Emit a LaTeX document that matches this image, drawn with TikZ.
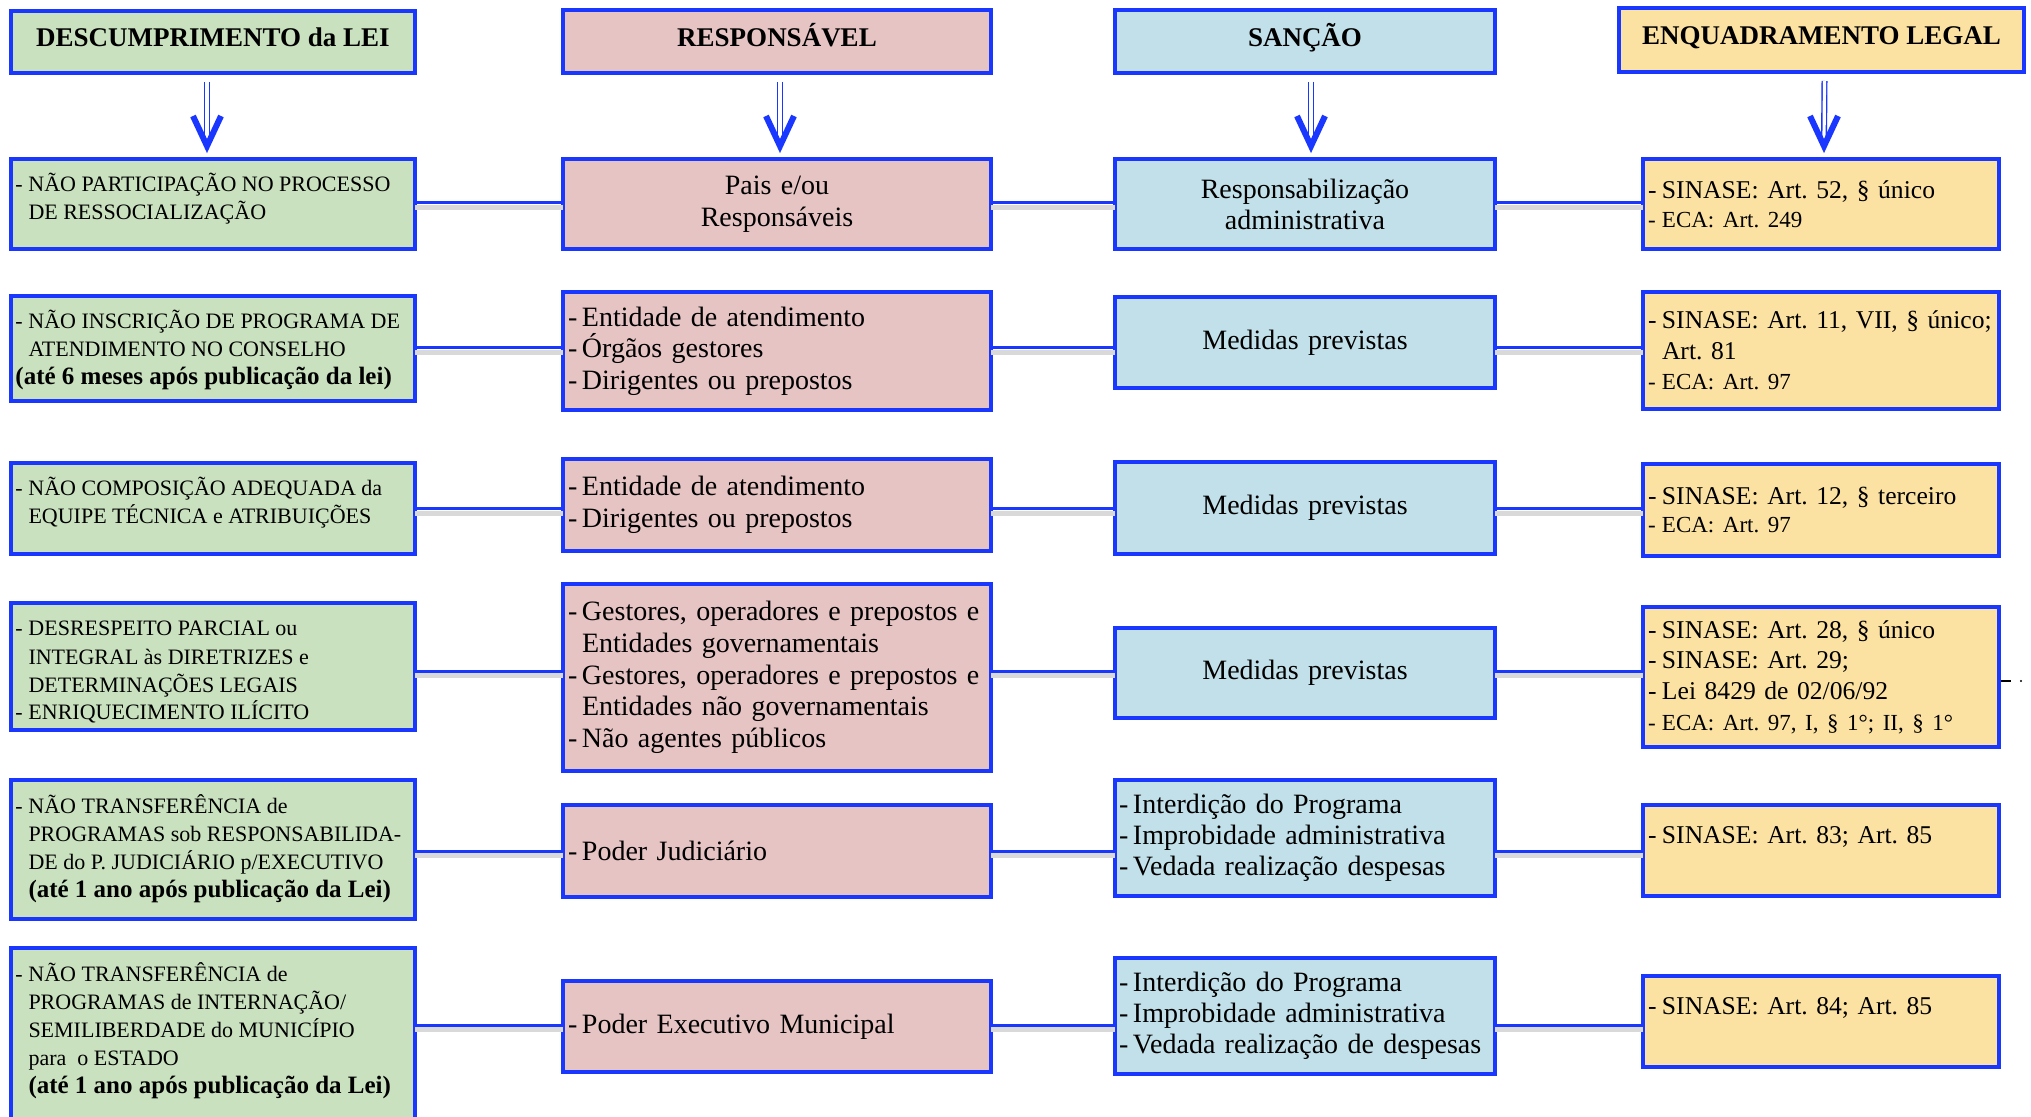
\documentclass[tikz,border=0pt]{standalone}
\usepackage{fontspec}
\setmainfont{Liberation Serif}
\usetikzlibrary{calc}
\definecolor{bl}{RGB}{25,55,255}
\definecolor{gr}{RGB}{201,225,190}
\definecolor{pk}{RGB}{231,196,196}
\definecolor{cy}{RGB}{194,224,233}
\definecolor{ye}{RGB}{252,226,162}
\newcommand\gd{\makebox[6.5pt][l]{-}}
\newcommand\gi{\hspace*{6.5pt}}
\newcommand\sd{\makebox[7pt][l]{-}}
\newcommand\si{\hspace*{7pt}}
\newcommand\ecafont{\fontsize{11.5}{13}\selectfont}
\newcommand\gtx[3]{\parbox[c][#2][t]{#1}{\raggedright\fontsize{11}{14}\selectfont\rule{0pt}{16.5pt}#3}}
\newcommand\gbold[1]{{\bfseries\fontsize{12.5}{14}\selectfont #1}}
\frenchspacing
\begin{document}
\begin{tikzpicture}[x=0.5pt,y=-0.5pt,
  cellbox/.style={draw=bl, line width=2pt, inner sep=0pt, outer sep=0pt},
  hdr/.style={cellbox, font=\fontsize{13.5}{15}\selectfont\bfseries, align=center, text height=9pt, text depth=4pt},
  gb/.style={cellbox, fill=gr},
  pb/.style={cellbox, fill=pk, font=\fontsize{14}{15.8}\selectfont, minimum width=214pt, text width=209pt, align=left},
  cb/.style={cellbox, fill=cy, font=\fontsize{14}{15.5}\selectfont, minimum width=190pt, text width=186pt, align=left},
  yb/.style={cellbox, fill=ye, font=\fontsize{12.8}{15.3}\selectfont, minimum width=178pt, text width=173pt, align=left},
  conn/.style={draw=bl, line width=1.5pt},
  cshadow/.style={draw=black!15, line width=2.5pt},
  dshaft/.style={draw=bl, double=white, double distance=1.6pt, line width=0.7pt},
  vhead/.style={draw=bl, line width=3pt, line join=miter, line cap=butt}]
\fill[white] (0,0) rectangle (2031,1117);
\useasboundingbox (0,0) rectangle (2031,1117);
\clip (0,0) rectangle (2031,1117);

% headers
\node[hdr, fill=gr, minimum width=202pt, minimum height=31pt] (h1) at (213,42) {DESCUMPRIMENTO da LEI};
\node[hdr, fill=pk, minimum width=214pt, minimum height=31.5pt] (h2) at (777,41.5) {RESPONSÁVEL};
\node[hdr, fill=cy, minimum width=190pt, minimum height=31.5pt] (h3) at (1305,41.5) {SANÇÃO};
\node[hdr, fill=ye, minimum width=202.5pt, minimum height=32pt] (h4) at (1821.5,40) {ENQUADRAMENTO LEGAL};

% row coordinates for connectors
\coordinate (r1) at (0,203);
\coordinate (r2) at (0,348);
\coordinate (r3) at (0,509);
\coordinate (r4) at (0,671);
\coordinate (r5) at (0,851);
\coordinate (r6) at (0,1025);

% column 1 (green)
\node[gb, minimum width=202pt, minimum height=45pt] (g1) at (213,204)
  {\gtx{197.5pt}{45pt}{\gd NÃO PARTICIPAÇÃO NO PROCESSO\\ \gi DE RESSOCIALIZAÇÃO}};
\node[gb, minimum width=202pt, minimum height=52.5pt] (g2) at (213,348.5)
  {\gtx{197.5pt}{52.5pt}{\gd NÃO INSCRIÇÃO DE PROGRAMA DE\\ \gi ATENDIMENTO NO CONSELHO\\ \gbold{(até 6 meses após publicação da lei)}}};
\node[gb, minimum width=202pt, minimum height=45.5pt] (g3) at (213,508.5)
  {\gtx{197.5pt}{45.5pt}{\gd NÃO COMPOSIÇÃO ADEQUADA da\\ \gi EQUIPE TÉCNICA e ATRIBUIÇÕES}};
\node[gb, minimum width=202pt, minimum height=63.5pt] (g4) at (213,666.5)
  {\gtx{197.5pt}{63.5pt}{\gd DESRESPEITO PARCIAL ou\\ \gi INTEGRAL às DIRETRIZES e\\ \gi DETERMINAÇÕES LEGAIS\\ \gd ENRIQUECIMENTO ILÍCITO}};
\node[gb, minimum width=202pt, minimum height=69.5pt] (g5) at (213,849.5)
  {\gtx{197.5pt}{69.5pt}{\gd NÃO TRANSFERÊNCIA de\\ \gi PROGRAMAS sob RESPONSABILIDA-\\ \gi DE do P. JUDICIÁRIO p/EXECUTIVO\\ \gi\gbold{(até 1 ano após publicação da Lei)}}};
\node[gb, minimum width=202pt, minimum height=90pt] (g6) at (213,1038)
  {\gtx{197.5pt}{90pt}{\gd NÃO TRANSFERÊNCIA de\\ \gi PROGRAMAS de INTERNAÇÃO/\\ \gi SEMILIBERDADE do MUNICÍPIO\\ \gi para\ \ o ESTADO\\ \gi\gbold{(até 1 ano após publicação da Lei)}}};

% column 2 (pink)
\node[pb, minimum height=45pt, align=center] (p1) at (777,204) {Pais e/ou\\ Responsáveis};
\node[pb, minimum height=59pt] (p2) at (777,351) {\sd Entidade de atendimento\\ \sd Órgãos gestores\\ \sd Dirigentes ou prepostos};
\node[pb, minimum height=46pt] (p3) at (777,505) {\sd Entidade de atendimento\\ \sd Dirigentes ou prepostos};
\node[pb, minimum height=93.5pt] (p4) at (777,677.5) {\sd Gestores, operadores e prepostos e\\ \si Entidades governamentais\\ \sd Gestores, operadores e prepostos e\\ \si Entidades não governamentais\\ \sd Não agentes públicos};
\node[pb, minimum height=46pt] (p5) at (777,851) {\sd Poder Judiciário};
\node[pb, minimum height=45.5pt] (p6) at (777,1026.5) {\sd Poder Executivo Municipal};

% column 3 (blue)
\node[cb, minimum height=45pt, align=center] (b1) at (1305,204) {Responsabilização\\ administrativa};
\node[cb, minimum height=45.5pt, align=center] (b2) at (1305,342.5) {Medidas previstas};
\node[cb, minimum height=46pt, align=center] (b3) at (1305,508) {Medidas previstas};
\node[cb, minimum height=45pt, align=center] (b4) at (1305,673) {Medidas previstas};
\node[cb, minimum height=58pt] (b5) at (1305,838) {\sd Interdição do Programa\\ \sd Improbidade administrativa\\ \sd Vedada realização despesas};
\node[cb, minimum height=58pt] (b6) at (1305,1016) {\sd Interdição do Programa\\ \sd Improbidade administrativa\\ \sd Vedada realização de despesas};

% column 4 (yellow)
\node[yb, minimum height=45pt] (y1) at (1821,204) {\sd SINASE: Art. 52, § único\\[-1pt] {\ecafont\sd ECA: Art. 249}};
\node[yb, minimum height=58.5pt] (y2) at (1821,350.5) {\sd SINASE: Art. 11, VII, § único;\\ \si Art. 81\\ {\ecafont\sd ECA: Art. 97}};
\node[yb, minimum height=46pt] (y3) at (1821,510) {\sd SINASE: Art. 12, § terceiro\\[-1pt] {\ecafont\sd ECA: Art. 97}};
\node[yb, minimum height=70pt] (y4) at (1821,677) {\sd SINASE: Art. 28, § único\\ \sd SINASE: Art. 29;\\ \sd Lei 8429 de 02/06/92\\ {\ecafont\sd ECA: Art. 97, I, § 1°; II, § 1°}};
\node[yb, minimum height=45.5pt] (y5) at (1821,850.5) {\sd SINASE: Art. 83; Art. 85\\[-4pt] \strut};
\node[yb, minimum height=45.5pt] (y6) at (1821,1021.5) {\sd SINASE: Art. 84; Art. 85\\[-4pt] \strut};

% connectors
\foreach \r/\a/\b/\c/\d in {r1/g1/p1/b1/y1, r2/g2/p2/b2/y2, r3/g3/p3/b3/y3, r4/g4/p4/b4/y4, r5/g5/p5/b5/y5, r6/g6/p6/b6/y6}{
  \draw[cshadow] ([yshift=-2.2pt]\a.east |- \r) -- ([yshift=-2.2pt]\b.west |- \r);
  \draw[cshadow] ([yshift=-2.2pt]\b.east |- \r) -- ([yshift=-2.2pt]\c.west |- \r);
  \draw[cshadow] ([yshift=-2.2pt]\c.east |- \r) -- ([yshift=-2.2pt]\d.west |- \r);
  \draw[conn] (\a.east |- \r) -- (\b.west |- \r);
  \draw[conn] (\b.east |- \r) -- (\c.west |- \r);
  \draw[conn] (\c.east |- \r) -- (\d.west |- \r);
}

% header arrows
\foreach \h/\b/\dx in {h1/g1/-3, h2/p1/1.5, h3/b1/3, h4/y1/1.5}{
  \draw[dshaft] ([xshift=\dx pt, yshift=-4.5pt]\h.south) -- ([xshift=\dx pt, yshift=9pt]\b.north);
  \draw[vhead] ($(\b.north)+(\dx pt-7pt,21.5pt)$) -- ($(\b.north)+(\dx pt,6.5pt)$) -- ($(\b.north)+(\dx pt+7pt,21.5pt)$);
}

% stray mark at right of y4
\draw[black, line width=1pt] ([xshift=1pt,yshift=-2pt]y4.east) -- ([xshift=6pt,yshift=-2pt]y4.east);
\fill[black] ([xshift=11pt,yshift=-2pt]y4.east) circle (0.6pt);
\end{tikzpicture}
\end{document}
